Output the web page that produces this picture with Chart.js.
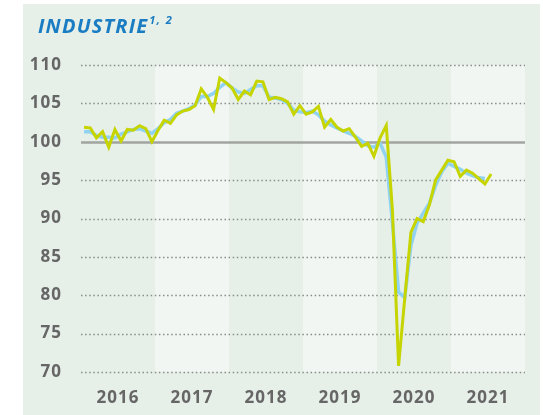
<!DOCTYPE html>
<html>
<head>
<meta charset="utf-8">
<script src="https://cdn.jsdelivr.net/npm/chart.js@4"></script>
<style>
  html, body { margin: 0; padding: 0; background: #ffffff; }
  body { width: 543px; height: 415px; position: relative; overflow: hidden; }
  #panel {
    position: absolute; left: 23px; top: 4px; width: 517px; height: 411px;
    background: #e6efe8;
  }
  #title {
    position: absolute; left: 15px; top: 12px;
    font-family: 'Open Sans', sans-serif; font-weight: 700; font-style: italic;
    font-size: 20px; line-height: 20px; letter-spacing: 1.2px;
    color: #1a7cc3; white-space: nowrap;
  }
  #title sup {
    font-size: 11px; letter-spacing: 1.5px; vertical-align: baseline;
    position: relative; top: -9px; margin-left: 1px;
  }
  #wrap { position: absolute; left: 0; top: 0; width: 517px; height: 411px; }
</style>
</head>
<body>
<div id="panel">
  <div id="wrap"><canvas id="industrieChart"></canvas></div>
  <div id="title">INDUSTRIE<sup>1, 2</sup></div>
</div>
<script>
// monthly values, Jan 2016 onwards
const years = ['2016', '2017', '2018', '2019', '2020', '2021'];
const yTicks = [70, 75, 80, 85, 90, 95, 100, 105, 110];

const industrieMonthly = [
  101.9, 101.8, 100.5, 101.3, 99.3, 101.6, 100.1, 101.6, 101.5, 102.1, 101.7, 100.0,
  101.5, 102.8, 102.4, 103.5, 104.0, 104.2, 104.7, 106.9, 105.8, 104.2, 108.3, 107.7,
  107.0, 105.5, 106.6, 106.1, 107.9, 107.8, 105.5, 105.8, 105.6, 105.2, 103.6, 104.7,
  103.6, 103.9, 104.6, 101.9, 102.9, 101.9, 101.4, 101.7, 100.6, 99.4, 99.8, 98.1,
  100.5, 102.1, 91.1, 70.8, 79.6, 88.2, 90.0, 89.6, 91.8, 95.0, 96.3, 97.6,
  97.4, 95.5, 96.3, 95.9, 95.2, 94.5, 95.8
];

const industrieTrend = [
  101.3, 101.3, 100.8, 100.6, 100.6, 100.5, 101.0, 101.3, 101.6, 101.7, 101.4, 101.1,
  101.7, 102.5, 102.9, 103.7, 104.0, 104.3, 104.8, 105.9, 105.9, 106.3, 107.1, 107.7,
  107.0, 106.5, 106.3, 106.8, 107.3, 107.3, 105.8, 105.7, 105.5, 105.0, 104.1, 103.9,
  103.8, 104.0, 103.5, 102.7, 102.2, 101.8, 101.4, 101.1, 100.7, 100.1, 99.5, 99.3,
  99.8, 98.0, 89.5, 80.4, 79.7, 86.5, 89.4, 90.7, 92.0, 94.3, 96.1, 97.2,
  96.8, 96.4, 95.9, 95.6, 95.3, 95.2
];

const toPoints = arr => arr.map((v, i) => ({ x: i + 0.5, y: v }));

const tickFont = { family: "'Open Sans', sans-serif", weight: 'bold', size: 17 };

// year bands + dotted grid, drawn under the lines
const backdrop = {
    id: 'backdrop',
    beforeDraw(chart) {
        // axis labels in the original are slightly spaced out
        chart.ctx.letterSpacing = '1px';
    },
    beforeDatasetsDraw(chart) {
        const { ctx, chartArea, scales } = chart;
        const xs = scales.x, ys = scales.y;
        ctx.save();
        years.forEach((yr, k) => {
            if (k % 2 === 1) {
                const x0 = xs.getPixelForValue(k * 12);
                const x1 = xs.getPixelForValue((k + 1) * 12);
                ctx.fillStyle = '#f1f6f2';
                ctx.fillRect(x0, chartArea.top, x1 - x0, chartArea.bottom - chartArea.top);
            }
        });
        yTicks.forEach(v => {
            const y = Math.round(ys.getPixelForValue(v)) + 0.5;
            ctx.beginPath();
            if (v === 100) {
                ctx.setLineDash([]);
                ctx.strokeStyle = '#a2a4a1';
                ctx.lineWidth = 2.5;
            } else {
                ctx.setLineDash([1.5, 2.6]);
                ctx.strokeStyle = '#8a8c8a';
                ctx.lineWidth = 1.5;
            }
            ctx.moveTo(chartArea.left, y);
            ctx.lineTo(chartArea.right, y);
            ctx.stroke();
        });
        ctx.restore();
    }
};

new Chart(document.getElementById('industrieChart'), {
    type: 'line',
    data: {
        datasets: [{
            label: 'Industrie',
            data: toPoints(industrieMonthly),
            borderColor: '#c6d400',
            borderWidth: 3,
            pointRadius: 0,
            tension: 0
        }, {
            label: 'Trend',
            data: toPoints(industrieTrend),
            borderColor: '#8fd2f1',
            borderWidth: 3.5,
            pointRadius: 0,
            tension: 0
        }]
    },
    options: {
        responsive: true,
        maintainAspectRatio: false,
        animation: false,
        layout: { padding: { top: 61, right: 15, left: 0, bottom: 0 } },
        plugins: {
            legend: { display: false },
            tooltip: { enabled: false }
        },
        scales: {
            x: {
                type: 'linear',
                min: 0,
                max: 72,
                grid: { display: false },
                border: { display: false },
                afterFit: (s) => { s.height = 43; },
                afterBuildTicks: (s) => { s.ticks = years.map((y, k) => ({ value: k * 12 + 6 })); },
                ticks: {
                    autoSkip: false,
                    maxRotation: 0,
                    padding: 8,
                    color: '#666666',
                    font: tickFont,
                    callback: (v) => years[Math.round((v - 6) / 12)]
                }
            },
            y: {
                min: 70,
                max: 110,
                grid: { display: false },
                border: { display: false },
                afterFit: (s) => { s.width = 58; },
                afterBuildTicks: (s) => { s.ticks = yTicks.map(v => ({ value: v })); },
                ticks: {
                    padding: 11,
                    color: '#666666',
                    font: tickFont
                }
            }
        }
    },
    plugins: [backdrop]
});
</script>
</body>
</html>
